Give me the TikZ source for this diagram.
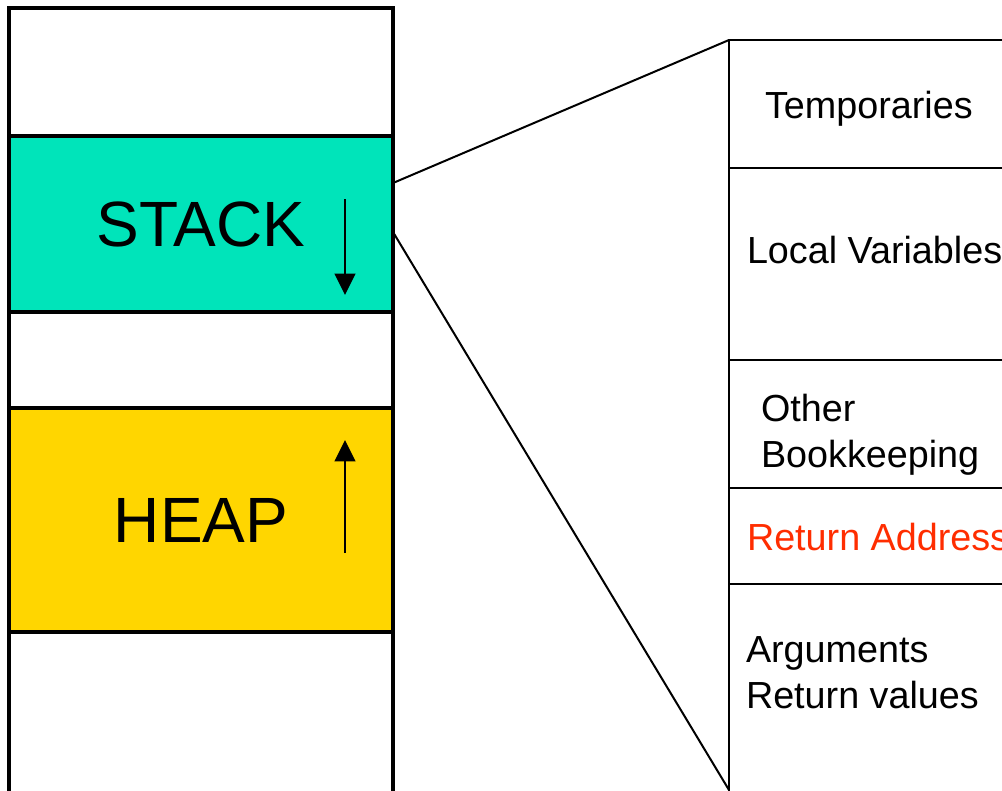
\documentclass[tikz,border=0pt]{standalone}
\usepackage{fontspec}
\setmainfont{Liberation Sans}
\usetikzlibrary{arrows.meta,positioning}
\definecolor{stackteal}{RGB}{0,228,186}
\definecolor{heapgold}{RGB}{255,214,0}
\definecolor{retred}{RGB}{255,45,0}

\begin{document}
\begin{tikzpicture}[x=0.75pt, y=-0.75pt, every node/.style={inner sep=0pt, outer sep=0pt},
  seg/.style={draw, line width=2.4pt, minimum width=288pt},
  slot/.style={draw, line width=2pt, minimum width=240pt, anchor=north west},
  big/.style={font=\fontsize{48}{58}\selectfont},
  lbl/.style={font=\fontsize{28.3}{34}\selectfont, align=left, anchor=base west},
  growarr/.style={-{Triangle[length=16pt,width=15.5pt]}, line width=1.4pt},
  link/.style={line width=1.5pt}]
\useasboundingbox (0,0) rectangle (1002,790);
\clip (0,0) rectangle (1002,790);
% address space, top to bottom
\node[seg, minimum height=96pt, anchor=north west] (free1) at (9,8) {};
\node[seg, minimum height=132pt, fill=stackteal, below=0pt of free1, big] (stack) {STACK};
\node[seg, minimum height=72pt, below=0pt of stack] (free2) {};
\node[seg, minimum height=168pt, fill=heapgold, below=0pt of free2, big] (heap) {HEAP};
\node[seg, minimum height=150pt, below=0pt of heap] (free3) {};
% growth directions
\coordinate (sgrow1) at (345,199); \coordinate (sgrow2) at (345,295);
\coordinate (hgrow1) at (345,553); \coordinate (hgrow2) at (345,440);
\draw[growarr] (sgrow1) -- (sgrow2);
\draw[growarr] (hgrow1) -- (hgrow2);
% one frame
\node[slot, minimum height=96pt] (temps) at (729,40) {};
\node[slot, minimum height=144pt, below=0pt of temps] (locals) {};
\node[slot, minimum height=96pt, below=0pt of locals] (books) {};
\node[slot, minimum height=72pt, below=0pt of books] (retaddr) {};
\node[slot, minimum height=165pt, below=0pt of retaddr] (args) {};
\node[lbl] (ttemps) at (765,118.5) {Temporaries};
\node[lbl] (tlocals) at (747,263) {Local Variables};
\node[lbl] (tbooks) at (761,467) {Other\\Bookkeeping};
\node[lbl, text=retred] (tret) at (747,550) {Return Address};
\node[lbl] (targs) at (746,708) {Arguments\\Return values};
% zoom lines
\coordinate (fbot) at (729,790);
\draw[link] ([yshift=-35.25pt]stack.north east) -- (temps.north west);
\draw[link] ([yshift=-72pt]stack.north east) -- (fbot);
\end{tikzpicture}
\end{document}
